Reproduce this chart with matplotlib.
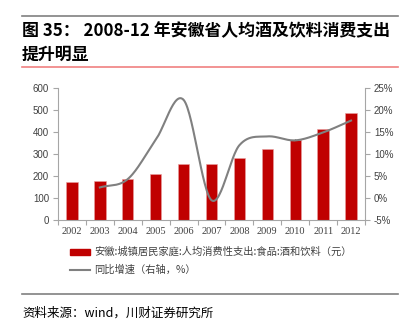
# -*- coding: utf-8 -*-

import numpy as np
import matplotlib.pyplot as plt

plt.rcParams['font.family'] = ['Noto Sans CJK SC', 'DejaVu Sans']

# 数据
years = ['2002', '2003', '2004', '2005', '2006', '2007',
         '2008', '2009', '2010', '2011', '2012']
spend = [175, 178, 186, 210, 256, 253, 282, 323, 362, 414, 486]
growth = [np.nan, 2.4, 4.3, 13.2, 22.3, -0.5, 12.0, 14.0, 13.1, 14.9, 17.6]
left_ticks = [0, 100, 200, 300, 400, 500, 600]
right_ticks = [-5, 0, 5, 10, 15, 20, 25]

bar_name = '安徽:城镇居民家庭:人均消费性支出:食品:酒和饮料（元）'
line_name = '同比增速（右轴，%）'

W, H = 407, 328
fig = plt.figure(figsize=(W / 100, H / 100), dpi=100)


def fx(px):
    return px / W


def fy(py):
    return 1 - py / H


# 标题与分隔线
fig.add_artist(plt.Line2D([fx(22), fx(398)], [fy(15.5), fy(15.5)], color='#808080', lw=1.2))
fig.add_artist(plt.Line2D([fx(22), fx(398)], [fy(67), fy(67)], color='#F08080', lw=1.2))
fig.add_artist(plt.Line2D([fx(22), fx(398)], [fy(294), fy(294)], color='#808080', lw=1.2))
fig.text(fx(22), fy(31), '图 35： 2008-12 年安徽省人均酒及饮料消费支出',
         fontsize=12.2, fontweight='bold', va='center', ha='left')
fig.text(fx(22), fy(55), '提升明显', fontsize=12.2, fontweight='bold', va='center', ha='left')
fig.text(fx(22), fy(313), '资料来源：wind，川财证券研究所', fontsize=9,
         style='italic', va='center', ha='left')

# 主坐标轴
ax = fig.add_axes([fx(58), fy(220), fx(365) - fx(58), fy(88) - fy(220)])
x = np.arange(len(years))
ax.bar(x, spend, width=0.41, color='#C00000', edgecolor='#E8A0A0', linewidth=0.4,
       zorder=2)
ax.set_xlim(-0.5, len(years) - 0.5)
ax.set_ylim(0, 600)
ax.set_yticks(left_ticks)
ax.set_yticklabels([str(v) for v in left_ticks], family='Liberation Sans', fontsize=7)
ax.set_xticks(x)
ax.set_xticklabels(years, family='Liberation Serif', fontsize=7.5)
ax.set_xticks(np.arange(-0.5, len(years), 1), minor=True)
ax.tick_params(axis='x', which='major', length=0, pad=5, colors='#404040')
ax.tick_params(axis='x', which='minor', length=3.5, color='#A6A6A6', width=0.8)
ax.tick_params(axis='y', length=3.5, color='#A6A6A6', width=0.8, pad=3,
               labelcolor='#404040')
for s in ['top', 'right']:
    ax.spines[s].set_visible(False)
for s in ['left', 'bottom']:
    ax.spines[s].set_color('#A6A6A6')
    ax.spines[s].set_linewidth(0.8)

# 次坐标轴：平滑曲线
ax2 = ax.twinx()
gx = np.array([i for i, g in enumerate(growth) if not np.isnan(g)], dtype=float)
gy = np.array([g for g in growth if not np.isnan(g)])
px = np.concatenate([[2 * gx[0] - gx[1]], gx, [2 * gx[-1] - gx[-2]]])
py = np.concatenate([[2 * gy[0] - gy[1]], gy, [2 * gy[-1] - gy[-2]]])
sx, sy = [], []
t = np.linspace(0, 1, 30)
for i in range(1, len(px) - 2):
    for arr, out in ((px, sx), (py, sy)):
        p0, p1, p2, p3 = arr[i - 1], arr[i], arr[i + 1], arr[i + 2]
        out.extend(0.5 * (2 * p1 + (-p0 + p2) * t + (2 * p0 - 5 * p1 + 4 * p2 - p3) * t ** 2
                          + (-p0 + 3 * p1 - 3 * p2 + p3) * t ** 3))
ax2.plot(sx, sy, color='#808080', lw=1.5, zorder=3)
ax2.set_ylim(-5, 25)
ax2.set_yticks(right_ticks)
ax2.set_yticklabels(['%d%%' % v for v in right_ticks], family='Liberation Sans', fontsize=7)
ax2.tick_params(axis='y', length=3.5, color='#A6A6A6', width=0.8, pad=3,
                labelcolor='#404040')
for s in ['top', 'left', 'bottom']:
    ax2.spines[s].set_visible(False)
ax2.spines['right'].set_color('#A6A6A6')
ax2.spines['right'].set_linewidth(0.8)

# 图例
fig.add_artist(plt.Rectangle((fx(70), fy(255)), fx(90) - fx(70), fy(249) - fy(255),
                             color='#C00000', transform=fig.transFigure))
fig.text(fx(94), fy(252), bar_name, fontsize=7.4, va='center', ha='left', color='#404040')
fig.add_artist(plt.Line2D([fx(70), fx(90)], [fy(270), fy(270)], color='#808080', lw=1.5))
fig.text(fx(94), fy(270), line_name, fontsize=7.4, va='center', ha='left', color='#404040')

fig.savefig('out.png', dpi=100)
